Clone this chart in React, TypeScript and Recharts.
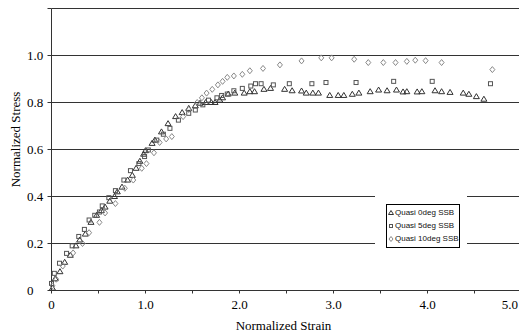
import React from 'react';
import { ScatterChart, Scatter, XAxis, YAxis, CartesianGrid, Legend } from 'recharts';

const series0: [number, number][] = [
  [0.01,0.01],[0.04,0.05],[0.09,0.08],[0.14,0.12],[0.20,0.15],[0.26,0.19],[0.30,0.215],[0.36,0.24],[0.42,0.29],[0.48,0.32],[0.53,0.34],[0.57,0.355],[0.62,0.38],[0.67,0.40],[0.70,0.42],[0.75,0.44],[0.81,0.47],[0.86,0.49],[0.90,0.52],[0.94,0.55],[0.98,0.58],[1.00,0.595],[1.07,0.626],[1.10,0.64],[1.17,0.675],[1.24,0.71],[1.32,0.74],[1.39,0.757],[1.46,0.775],[1.53,0.786],[1.58,0.797],[1.64,0.80],[1.70,0.80],[1.74,0.80],[1.79,0.81],[1.82,0.82],[1.88,0.836],[1.95,0.84],[2.05,0.84],[2.11,0.846],[2.16,0.846],[2.26,0.856],[2.33,0.86],[2.48,0.856],[2.56,0.85],[2.66,0.849],[2.71,0.84],[2.78,0.84],[2.84,0.84],[2.96,0.83],[3.05,0.83],[3.11,0.83],[3.20,0.835],[3.27,0.84],[3.39,0.846],[3.48,0.853],[3.57,0.85],[3.67,0.853],[3.74,0.845],[3.78,0.846],[3.89,0.845],[3.94,0.846],[4.08,0.85],[4.15,0.846],[4.24,0.843],[4.38,0.84],[4.44,0.835],[4.52,0.825],[4.60,0.814]
];
const series5: [number, number][] = [
  [0.0,0.03],[0.03,0.073],[0.085,0.116],[0.16,0.158],[0.22,0.19],[0.29,0.23],[0.35,0.26],[0.40,0.30],[0.46,0.32],[0.51,0.334],[0.54,0.36],[0.61,0.395],[0.68,0.425],[0.77,0.47],[0.84,0.51],[0.93,0.54],[0.99,0.57],[1.03,0.598],[1.12,0.64],[1.19,0.665],[1.26,0.69],[1.35,0.725],[1.46,0.754],[1.53,0.768],[1.61,0.79],[1.67,0.81],[1.76,0.82],[1.81,0.83],[1.87,0.836],[1.94,0.85],[2.03,0.86],[2.12,0.87],[2.17,0.88],[2.23,0.88],[2.36,0.875],[2.53,0.88],[2.77,0.88],[2.92,0.885],[3.24,0.885],[3.64,0.89],[4.05,0.89],[4.67,0.88]
];
const series10: [number, number][] = [
  [0.01,0.02],[0.05,0.048],[0.12,0.104],[0.23,0.16],[0.33,0.20],[0.40,0.246],[0.51,0.29],[0.57,0.33],[0.68,0.37],[0.78,0.435],[0.87,0.47],[0.96,0.52],[1.01,0.54],[1.09,0.586],[1.15,0.63],[1.22,0.645],[1.28,0.655],[1.40,0.74],[1.46,0.77],[1.55,0.80],[1.60,0.82],[1.65,0.84],[1.71,0.856],[1.77,0.875],[1.82,0.89],[1.87,0.907],[1.94,0.913],[2.03,0.92],[2.11,0.935],[2.25,0.945],[2.43,0.96],[2.66,0.977],[2.87,0.99],[2.98,0.99],[3.22,0.984],[3.37,0.97],[3.53,0.97],[3.66,0.97],[3.78,0.975],[3.87,0.98],[3.98,0.978],[4.15,0.97],[4.69,0.94]
];

const seriesNames = ['Quasi 0deg SSB', 'Quasi 5deg SSB', 'Quasi 10deg SSB'];
const xTicks = [0, 0.5, 1, 1.5, 2, 2.5, 3, 3.5, 4, 4.5, 5];
const yTicks = [0, 0.2, 0.4, 0.6, 0.8, 1.0, 1.2];
const xLabels: Record<string, string> = { '0': '0', '1': '1.0', '2': '2.0', '3': '3.0', '4': '4.0', '5': '5.0' };
const yLabels: Record<string, string> = { '0': '0', '0.2': '0.2', '0.4': '0.4', '0.6': '0.6', '0.8': '0.8', '1': '1.0' };

const SERIF = 'Liberation Serif, DejaVu Serif, serif';
const toPts = (a: [number, number][]) => a.map(([x, y]) => ({ x, y }));

const Tri = (p: any) => {
  const { cx, cy } = p;
  return <polygon points={`${cx},${cy - 3} ${cx - 3},${cy + 2} ${cx + 3},${cy + 2}`} fill="none" stroke="#333" strokeWidth={1} />;
};
const Sq = (p: any) => {
  const { cx, cy } = p;
  return <rect x={cx - 2} y={cy - 2} width={4} height={4} fill="none" stroke="#555" strokeWidth={1} />;
};
const Dia = (p: any) => {
  const { cx, cy } = p;
  return <polygon points={`${cx},${cy - 3} ${cx + 2.5},${cy} ${cx},${cy + 3} ${cx - 2.5},${cy}`} fill="none" stroke="#888" strokeWidth={1} />;
};

const XTick = (p: any) => {
  const { x, y, payload } = p;
  const lab = xLabels[String(payload.value)];
  if (!lab) return null;
  const last = payload.value === 5;
  return (
    <text x={last ? 518 : x} y={y + 13} textAnchor={last ? 'end' : 'middle'} fontFamily={SERIF} fontSize={13} fill="#000">{lab}</text>
  );
};
const YTick = (p: any) => {
  const { y, payload } = p;
  const lab = yLabels[String(Math.round(payload.value * 10) / 10)];
  if (!lab) return null;
  return (
    <text x={27} y={y + 4.5} textAnchor="start" fontFamily={SERIF} fontSize={13} fill="#000">{lab}</text>
  );
};

const XTitle = (p: any) => {
  const { viewBox } = p;
  const cx = viewBox.x + viewBox.width / 2 - 3;
  return <text x={cx} y={viewBox.y + viewBox.height - 4} textAnchor="middle" fontFamily={SERIF} fontSize={13} fill="#000">Normalized Strain</text>;
};
const YTitle = (p: any) => {
  const { viewBox } = p;
  const cy = viewBox.y + viewBox.height / 2 - 10;
  return <text x={0} y={0} transform={`translate(20, ${cy}) rotate(-90)`} textAnchor="middle" fontFamily={SERIF} fontSize={13} fill="#000">Normalized Stress</text>;
};

const legendMarks = [
  (cx: number, cy: number) => <polygon points={`${cx},${cy - 2.5} ${cx - 2.5},${cy + 1.5} ${cx + 2.5},${cy + 1.5}`} fill="none" stroke="#333" />,
  (cx: number, cy: number) => <rect x={cx - 1.5} y={cy - 1.5} width={3} height={3} fill="none" stroke="#555" />,
  (cx: number, cy: number) => <polygon points={`${cx},${cy - 2.5} ${cx + 2},${cy} ${cx},${cy + 2.5} ${cx - 2},${cy}`} fill="none" stroke="#888" />,
];

const LegendBox = () => (
  <div style={{ position: 'relative', width: 92, height: 60, background: '#fff' }}>
    <div style={{ position: 'absolute', left: 11, top: 14, width: 72, height: 42, border: '1px solid #000', background: '#fff' }}>
      {seriesNames.map((n, i) => (
        <div key={n} style={{ position: 'absolute', left: 1, top: 3 + i * 13, height: 10, display: 'flex', alignItems: 'center', whiteSpace: 'nowrap' }}>
          <svg width={6} height={8} style={{ marginRight: 1 }}>{legendMarks[i](3, 4)}</svg>
          <span style={{ fontFamily: 'Liberation Sans, Arial, sans-serif', fontSize: 8, color: '#111', lineHeight: '10px' }}>{n}</span>
        </div>
      ))}
    </div>
  </div>
);

export default function App() {
  return (
    <div style={{ position: 'absolute', left: 0, top: 0, width: 519, height: 334, overflow: 'hidden', background: '#fff', fontFamily: SERIF }}>
      <ScatterChart width={540} height={334} margin={{ top: 8.5, right: 18.5, left: 0, bottom: 0 }} style={{ fontFamily: SERIF }}>
        <CartesianGrid vertical={false} stroke="#333" strokeWidth={1} />
        <XAxis
          type="number"
          dataKey="x"
          domain={[0, 5]}
          ticks={xTicks}
          interval={0}
          height={43.5}
          tickSize={3}
          tick={<XTick />}
          axisLine={{ stroke: '#333' }}
          tickLine={{ stroke: '#333' }}
          label={<XTitle />}
        />
        <YAxis
          type="number"
          dataKey="y"
          domain={[0, 1.2]}
          ticks={yTicks}
          interval={0}
          width={51.5}
          tickSize={4}
          tick={<YTick />}
          axisLine={{ stroke: '#333' }}
          tickLine={{ stroke: '#333' }}
          label={<YTitle />}
        />
        <Legend layout="vertical" align="center" verticalAlign="middle" content={<LegendBox />} wrapperStyle={{ left: 375, top: 190, width: 92, height: 60 }} />
        <Scatter name={seriesNames[0]} data={toPts(series0)} shape={<Tri />} isAnimationActive={false} />
        <Scatter name={seriesNames[1]} data={toPts(series5)} shape={<Sq />} isAnimationActive={false} />
        <Scatter name={seriesNames[2]} data={toPts(series10)} shape={<Dia />} isAnimationActive={false} />
      </ScatterChart>
    </div>
  );
}
